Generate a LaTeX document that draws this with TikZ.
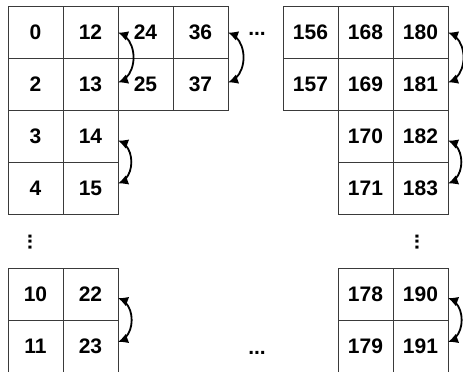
\documentclass[tikz,border=0pt]{standalone}
\usepackage{fontspec}
\setmainfont{Liberation Sans}
\usepackage{tikz}
\usetikzlibrary{arrows.meta,positioning,bending}
\definecolor{gridline}{HTML}{3A3A3A}

\begin{document}
\begin{tikzpicture}[x=1pt,y=-1pt,
  font=\fontsize{21}{23}\selectfont\bfseries,
  cell/.style={draw=gridline,line width=0.9pt,minimum width=55pt,
               minimum height=52pt,inner sep=0pt,outer sep=0pt},
  swap/.style={{Latex[length=10pt,width=10pt,flex=0.3]}-{Latex[length=10pt,width=10pt,flex=0.3]},
               line width=1.8pt,out=-15,in=15,looseness=1.1},
]
\useasboundingbox (0,0) rectangle (463,372);

% left block, first rows
\node[cell] (c0) at (35.5,32.5) {0};
\node[cell,right=0pt of c0] (c12) {12};
\node[cell,right=0pt of c12] (c24) {24};
\node[cell,right=0pt of c24] (c36) {36};
\node[cell,below=0pt of c0] (c2) {2};
\node[cell,right=0pt of c2] (c13) {13};
\node[cell,right=0pt of c13] (c25) {25};
\node[cell,right=0pt of c25] (c37) {37};
\node[cell,below=0pt of c2] (c3) {3};
\node[cell,right=0pt of c3] (c14) {14};
\node[cell,below=0pt of c3] (c4) {4};
\node[cell,right=0pt of c4] (c15) {15};

\node[rotate=90] (ldots) at (30,242) {...};

% left block, last rows
\node[cell] (c10) at (35.5,294) {10};
\node[cell,right=0pt of c10] (c22) {22};
\node[cell,below=0pt of c10] (c11) {11};
\node[cell,right=0pt of c11] (c23) {23};

\node (topdots) at (257,34) {...};
\node (botdots) at (257,353) {...};

% right block
\node[cell] (c156) at (310.5,32.5) {156};
\node[cell,right=0pt of c156] (c168) {168};
\node[cell,right=0pt of c168] (c180) {180};
\node[cell,below=0pt of c156] (c157) {157};
\node[cell,right=0pt of c157] (c169) {169};
\node[cell,right=0pt of c169] (c181) {181};
\node[cell,below=0pt of c169] (c170) {170};
\node[cell,right=0pt of c170] (c182) {182};
\node[cell,below=0pt of c170] (c171) {171};
\node[cell,right=0pt of c171] (c183) {183};

\node[rotate=90] (rdots) at (417,242) {...};

\node[cell] (c178) at (365.5,294) {178};
\node[cell,right=0pt of c178] (c190) {190};
\node[cell,below=0pt of c178] (c179) {179};
\node[cell,right=0pt of c179] (c191) {191};

% swaps
\draw[swap] (c12.east) to ([yshift=2pt]c13.east);
\draw[swap] (c36.east) to ([yshift=2pt]c37.east);
\draw[swap] ([yshift=-4pt]c14.east) to ([yshift=5pt]c15.east);
\draw[swap] ([yshift=-4pt]c22.east) to ([yshift=4pt]c23.east);
\draw[swap] (c180.east) to ([yshift=2pt]c181.east);
\draw[swap] ([yshift=-4pt]c182.east) to ([yshift=5pt]c183.east);
\draw[swap] ([yshift=-4pt]c190.east) to ([yshift=4pt]c191.east);

\end{tikzpicture}
\end{document}
